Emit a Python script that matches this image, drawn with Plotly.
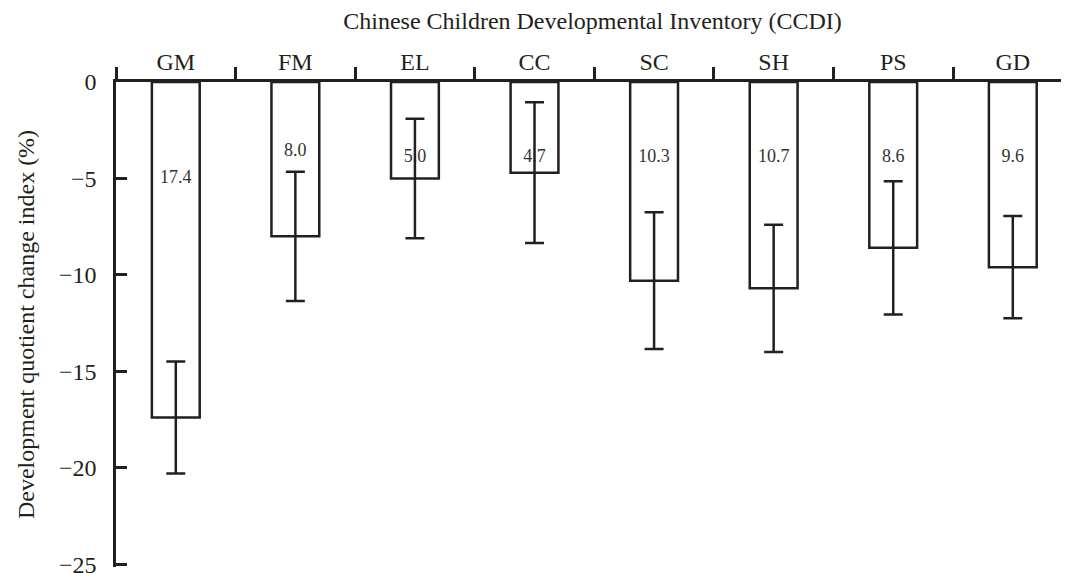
import plotly.graph_objects as go

categories = ["GM", "FM", "EL", "CC", "SC", "SH", "PS", "GD"]
values = [-17.4, -8.0, -5.0, -4.7, -10.3, -10.7, -8.6, -9.6]
errors = [2.9, 3.35, 3.1, 3.65, 3.55, 3.3, 3.45, 2.65]
labels = ["17.4", "8.0", "5.0", "4.7", "10.3", "10.7", "8.6", "9.6"]
label_y = [-5.0, -3.6, -3.9, -3.9, -3.9, -3.9, -3.9, -3.9]
y_ticks = [0, -5, -10, -15, -20, -25]

INK = "#231f20"
FONT = "Liberation Serif"

fig = go.Figure()
fig.add_trace(go.Bar(
    x=categories, y=values, width=0.4,
    marker=dict(color="white", line=dict(color=INK, width=2.5)),
    showlegend=False, hoverinfo="skip",
))
fig.add_trace(go.Scatter(
    x=categories, y=label_y, mode="text", text=labels,
    textfont=dict(family=FONT, size=18, color="#333333"),
    showlegend=False, hoverinfo="skip",
))
fig.add_trace(go.Scatter(
    x=categories, y=values, mode="markers",
    marker=dict(size=0.1, color="rgba(0,0,0,0)"),
    error_y=dict(type="data", array=errors, visible=True,
                 color=INK, thickness=2.5, width=9.5),
    showlegend=False, hoverinfo="skip",
))

# page body has an 8px margin, so the figure is offset by 8px
fig.update_layout(
    width=1061, height=565,
    margin=dict(l=108, r=0, t=74, b=6),
    plot_bgcolor="white", paper_bgcolor="white",
    font=dict(family=FONT, color=INK, size=24),
    xaxis=dict(
        side="top", type="category", range=[-0.5, 7.47], automargin=False,
        tickson="boundaries", ticks="outside", ticklen=12, tickwidth=2.5,
        tickcolor=INK, showline=True, linecolor=INK, linewidth=2.5,
        showgrid=False, zeroline=False,
        tickfont=dict(family=FONT, size=24, color=INK),
        title=dict(text="Chinese Children Developmental Inventory (CCDI)",
                   font=dict(family=FONT, size=24, color=INK), standoff=14),
    ),
    yaxis=dict(
        range=[-25.15, 0], tickvals=y_ticks, ticks="inside", ticklen=11,
        tickwidth=2.5, tickcolor=INK, showline=True, linecolor=INK,
        linewidth=2.5, showgrid=False, zeroline=False, automargin=False,
        ticklabelstandoff=12, ticklabeloverflow="allow",
        tickfont=dict(family=FONT, size=24, color=INK),
        title=dict(text="Development quotient change index (%)",
                   font=dict(family=FONT, size=24, color=INK), standoff=18),
    ),
)

fig.write_html("out.html")
